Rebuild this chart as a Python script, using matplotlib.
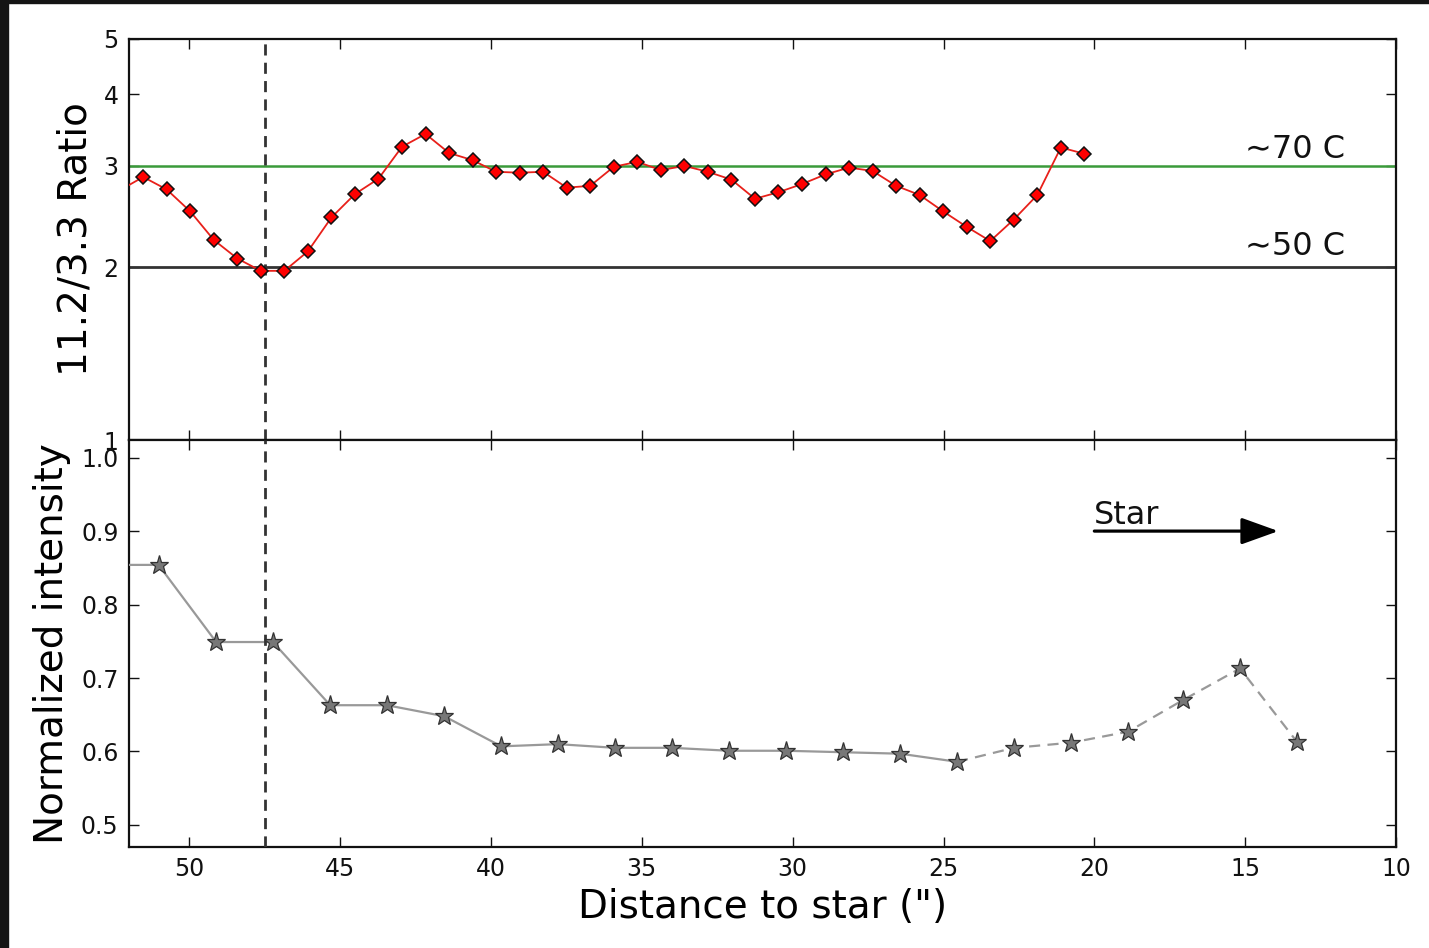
import matplotlib
matplotlib.use("Agg")
import matplotlib.pyplot as plt
from matplotlib.patches import Rectangle
from matplotlib.ticker import NullLocator, FixedLocator, FixedFormatter

# ---------------- data ----------------
ratio_x = [52.31, 51.53, 50.75, 49.97, 49.19, 48.41, 47.63, 46.85, 46.07, 45.29,
           44.51, 43.73, 42.95, 42.17, 41.39, 40.61, 39.83, 39.05, 38.27, 37.49,
           36.71, 35.93, 35.15, 34.37, 33.59, 32.81, 32.03, 31.25, 30.47, 29.69,
           28.91, 28.13, 27.35, 26.57, 25.79, 25.01, 24.23, 23.45, 22.67, 21.89,
           21.11, 20.33]
ratio_y = [2.72, 2.87, 2.73, 2.50, 2.23, 2.07, 1.97, 1.97, 2.13, 2.44,
           2.68, 2.85, 3.24, 3.41, 3.16, 3.07, 2.93, 2.92, 2.93, 2.75,
           2.77, 2.99, 3.05, 2.95, 3.00, 2.93, 2.84, 2.63, 2.70, 2.79,
           2.90, 2.98, 2.94, 2.77, 2.67, 2.50, 2.35, 2.22, 2.42, 2.67,
           3.23, 3.15]

inten_x = [52.90, 51.02, 49.11, 47.23, 45.33, 43.45, 41.55, 39.66, 37.78, 35.89,
           34.00, 32.11, 30.22, 28.33, 26.44, 24.55, 22.66, 20.77, 18.88, 17.06,
           15.17, 13.28]
inten_y = [0.854, 0.854, 0.749, 0.749, 0.663, 0.663, 0.648, 0.607, 0.610, 0.605,
           0.605, 0.601, 0.601, 0.599, 0.597, 0.586, 0.605, 0.612, 0.627, 0.670,
           0.713, 0.613]
solid_end = 15          # last index of the solid part of the intensity curve

temp_levels = [3.0, 2.0]
temp_labels = ["\u223c70 C", "\u223c50 C"]
temp_label_y = [3.1, 2.1]
temp_label_x = 15
marker_line_x = 47.5

ratio_ticks = [1, 2, 3, 4, 5]
ratio_ticklabels = ["1", "2", "3", "4", "5"]
inten_ticks = [0.5, 0.6, 0.7, 0.8, 0.9, 1.0]
inten_ticklabels = ["0.5", "0.6", "0.7", "0.8", "0.9", "1.0"]
x_ticks = [50, 45, 40, 35, 30, 25, 20, 15, 10]
x_ticklabels = ["50", "45", "40", "35", "30", "25", "20", "15", "10"]

# ---------------- figure ----------------
plt.rcParams["font.family"] = ["DejaVu Sans"]
W, H = 1429, 948
fig = plt.figure(figsize=(W / 100, H / 100), dpi=100)
fig.patch.set_facecolor("white")

left, right = 129 / W, 1396 / W
top_t, mid, bot_b = 1 - 38.5 / H, 1 - 440 / H, 1 - 847 / H
ax1 = fig.add_axes([left, mid, right - left, top_t - mid])
ax2 = fig.add_axes([left, bot_b, right - left, mid - bot_b], sharex=ax1)

for ax in (ax1, ax2):
    for s in ax.spines.values():
        s.set_linewidth(1.6)
        s.set_color("#111111")
    ax.tick_params(direction="in", length=7, width=1.0, top=True, right=True,
                   labelsize=17, pad=7.5, colors="#111111")

# ---- top panel ----
ax1.set_yscale("log")
ax1.set_ylim(1, 5)
ax1.set_xlim(52, 10)
ax1.yaxis.set_major_locator(FixedLocator(ratio_ticks))
ax1.yaxis.set_major_formatter(FixedFormatter(ratio_ticklabels))
ax1.yaxis.set_minor_locator(NullLocator())
ax1.axhline(temp_levels[0], color="#3a9a3a", lw=1.8, zorder=2)
ax1.axhline(temp_levels[1], color="#333333", lw=2.0, zorder=2)
ax1.plot(ratio_x, ratio_y, color="#e8201a", lw=1.3, marker="D", ms=7.6,
         mfc="#ff0000", mec="#111111", mew=1.1, zorder=4)
for lab, ly in zip(temp_labels, temp_label_y):
    ax1.text(temp_label_x, ly, lab, fontsize=23, color="#111111")
ax1.set_ylabel("11.2/3.3 Ratio", fontsize=28)
ax1.yaxis.set_label_coords(-0.027, 0.5)
plt.setp(ax1.get_xticklabels(), visible=False)

# ---- bottom panel ----
ax2.set_ylim(0.47, 1.024)
ax2.yaxis.set_major_locator(FixedLocator(inten_ticks))
ax2.yaxis.set_major_formatter(FixedFormatter(inten_ticklabels))
ax2.xaxis.set_major_locator(FixedLocator(x_ticks))
ax2.xaxis.set_major_formatter(FixedFormatter(x_ticklabels))
ax2.plot(inten_x[:solid_end + 1], inten_y[:solid_end + 1], color="#999999", lw=1.6,
         zorder=3)
ax2.plot(inten_x[solid_end:], inten_y[solid_end:], color="#999999", lw=1.6,
         linestyle=(0, (5, 3.3)), zorder=3)
ax2.plot(inten_x, inten_y, linestyle="none", marker="*", ms=14,
         mfc="#777777", mec="#333333", mew=0.9, zorder=4)
ax2.text(20, 0.91, "Star", fontsize=23, color="#111111")
ax2.annotate("", xy=(13.9, 0.9), xytext=(20, 0.9),
             arrowprops=dict(arrowstyle="-|>,head_length=1.14,head_width=0.41",
                             mutation_scale=20, lw=2.3, color="black",
                             shrinkA=0, shrinkB=0))
ax2.set_ylabel("Normalized intensity", fontsize=28)
ax2.yaxis.set_label_coords(-0.046, 0.5)
ax2.set_xlabel('Distance to star (")', fontsize=28)
ax2.xaxis.set_label_coords(0.5, -0.1)

# vertical dashed marker through both panels
for ax in (ax1, ax2):
    ax.axvline(marker_line_x, color="#333333", lw=2.0, linestyle=(0, (4, 2.6)),
               zorder=3)

# dark screenshot frame on top and left edges
fig.add_artist(Rectangle((0, 1 - 3 / H), 1, 3 / H, transform=fig.transFigure,
                         color="#141414", zorder=10))
fig.add_artist(Rectangle((0, 0), 8 / W, 1, transform=fig.transFigure,
                         color="#141414", zorder=10))

fig.savefig("out.png", dpi=100)
